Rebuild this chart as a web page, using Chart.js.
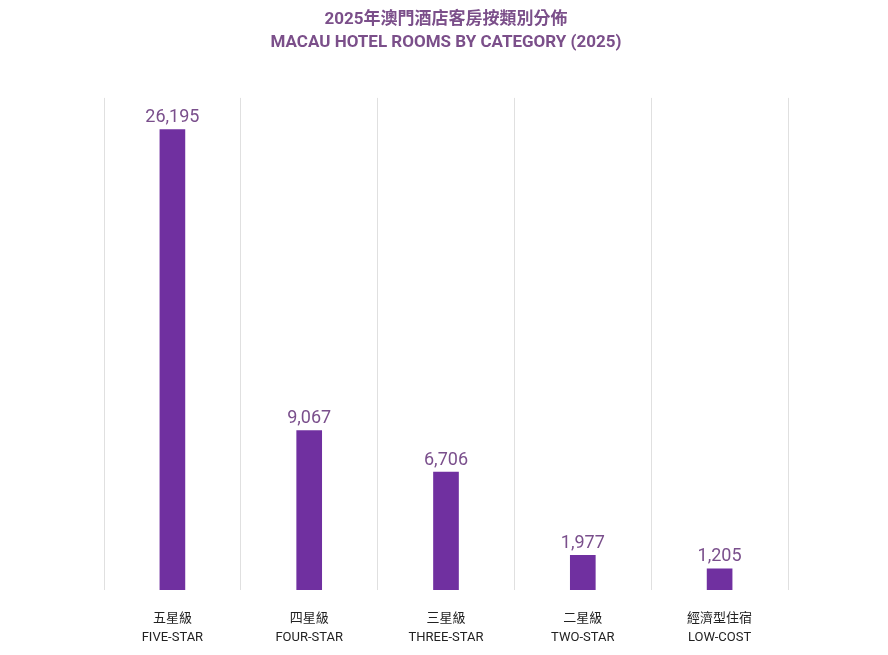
<!DOCTYPE html>
<html lang="zh-Hant">
<head>
    <meta charset="UTF-8">
    <title>澳門酒店客房按類別分佈 2025</title>
    <style>
        body {
            margin: 0;
            padding: 0;
            background: #fff;
        }
        .chart-box {
            width: 888px;
            height: 655px;
        }
    </style>
</head>
<body>
    <div class="chart-box">
        <canvas id="roomsChart"></canvas>
    </div>

    <script src="https://cdn.jsdelivr.net/npm/chart.js"></script>
    <script>
        // Data
        const categoriesZh = ['五星級', '四星級', '三星級', '二星級', '經濟型住宿'];
        const categoriesEn = ['FIVE-STAR', 'FOUR-STAR', 'THREE-STAR', 'TWO-STAR', 'LOW-COST'];
        const roomCounts = [26195, 9067, 6706, 1977, 1205];
        const yMax = 28000;

        const purple = '#7030a0';
        const labelPurple = '#7a4f8c';

        // value labels above each bar
        const valueLabels = {
            id: 'valueLabels',
            afterDatasetsDraw(chart) {
                const ctx = chart.ctx;
                const meta = chart.getDatasetMeta(0);
                ctx.save();
                ctx.fillStyle = labelPurple;
                ctx.font = '400 18px Roboto, Arial, sans-serif';
                ctx.textAlign = 'center';
                ctx.textBaseline = 'bottom';
                meta.data.forEach((bar, i) => {
                    ctx.fillText(roomCounts[i].toLocaleString('en-US'), bar.x, bar.y - 3);
                });
                ctx.restore();
            }
        };

        const ctx = document.getElementById('roomsChart').getContext('2d');
        new Chart(ctx, {
            type: 'bar',
            data: {
                labels: categoriesZh.map((zh, i) => [zh, categoriesEn[i]]),
                datasets: [{
                    data: roomCounts,
                    backgroundColor: purple,
                    barThickness: 25
                }]
            },
            options: {
                responsive: true,
                maintainAspectRatio: false,
                animation: false,
                layout: {
                    padding: { left: 104, right: 100, top: 4, bottom: 0 }
                },
                plugins: {
                    legend: { display: false },
                    tooltip: { enabled: false },
                    title: {
                        display: true,
                        text: ['2025年澳門酒店客房按類別分佈', 'MACAU HOTEL ROOMS BY CATEGORY (2025)'],
                        color: '#7b4f8a',
                        font: { family: 'Roboto, "Noto Sans CJK TC", sans-serif', size: 17, weight: 'bold', lineHeight: 1.35 },
                        padding: { top: 4, bottom: 44 }
                    }
                },
                scales: {
                    x: {
                        grid: {
                            display: true,
                            color: '#e0e0e0',
                            lineWidth: 1,
                            drawTicks: false,
                            offset: true
                        },
                        border: { display: false },
                        ticks: {
                            color: '#222',
                            padding: 20,
                            font: { family: 'Roboto, "Noto Sans CJK TC", sans-serif', size: 13, lineHeight: 1.4 }
                        },
                        afterFit(scale) {
                            scale.height = 65;
                        }
                    },
                    y: {
                        display: false,
                        min: 0,
                        max: yMax
                    }
                }
            },
            plugins: [valueLabels]
        });
    </script>
</body>
</html>
